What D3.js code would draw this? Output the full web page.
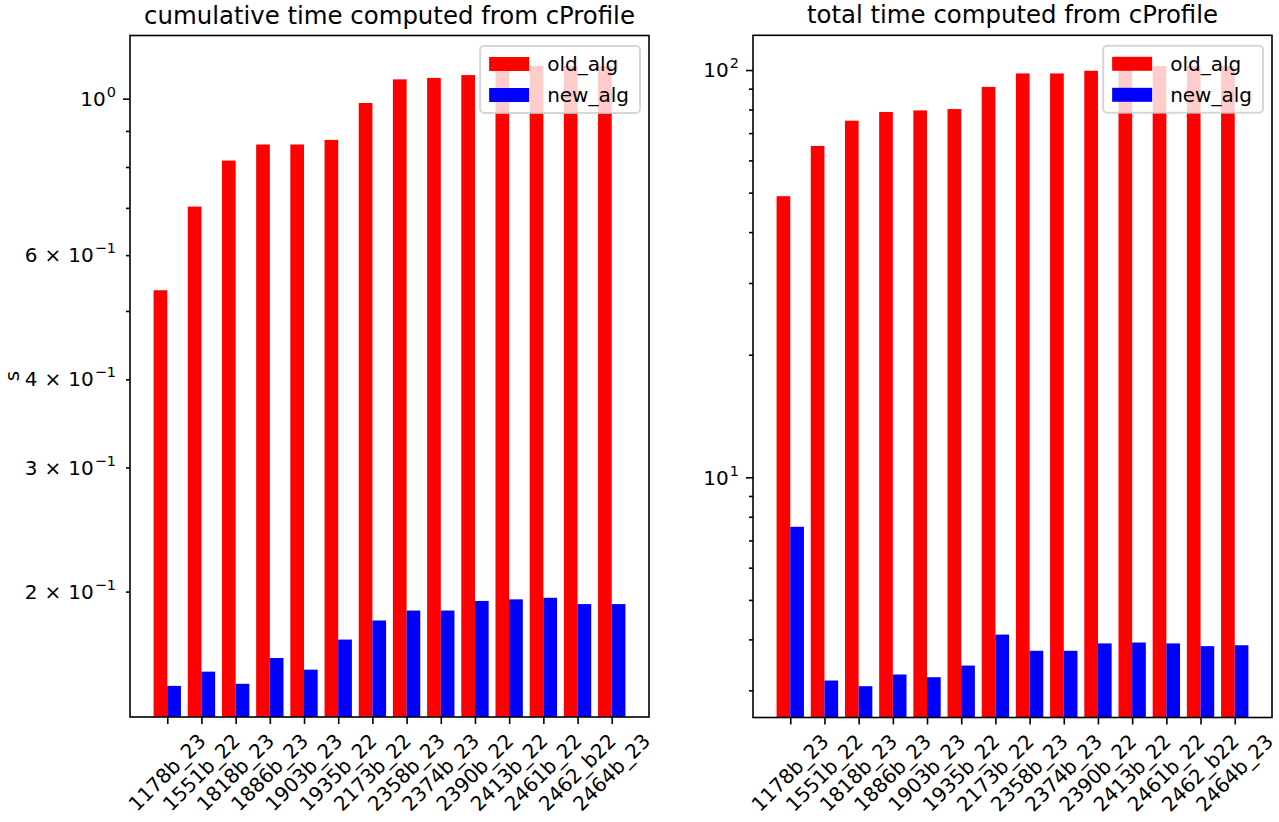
<!DOCTYPE html>
<html>
<head>
<meta charset="utf-8">
<script src="https://cdn.jsdelivr.net/npm/d3@7"></script>
<style>
  body { margin: 0; background: #fff; }
  text { font-family: "DejaVu Sans", sans-serif; fill: #000; }
</style>
</head>
<body>
<script>
// data
const categories = ["1178b_23", "1551b_22", "1818b_23", "1886b_23", "1903b_23", "1935b_22", "2173b_22",
  "2358b_23", "2374b_23", "2390b_22", "2413b_22", "2461b_22", "2462_b22", "2464b_23"];
const cumOld = [0.535, 0.703, 0.817, 0.861, 0.861, 0.874, 0.986, 1.065, 1.070, 1.080, 1.113, 1.113, 1.113, 1.113];
const cumNew = [0.147, 0.154, 0.148, 0.161, 0.155, 0.171, 0.182, 0.188, 0.188, 0.194, 0.195, 0.196, 0.192, 0.192];
const totOld = [49.0, 65.1, 75.1, 78.9, 79.6, 80.2, 90.9, 98.1, 98.1, 99.6, 102.3, 102.3, 102.3, 102.3];
const totNew = [7.56, 3.17, 3.07, 3.28, 3.23, 3.45, 4.11, 3.75, 3.75, 3.91, 3.93, 3.91, 3.85, 3.87];

const seriesNames = ["old_alg", "new_alg"];
const seriesColors = ["#ff0000", "#0000ff"];

// tick labels: [value, mantissa, exponent]; mantissa null means plain 10^e
const cumMajor = [1];
const cumMinor = [0.2, 0.3, 0.4, 0.5, 0.6, 0.7, 0.8, 0.9];
const cumLabels = [[1, null, "0"], [0.6, "6", "\u22121"], [0.4, "4", "\u22121"], [0.3, "3", "\u22121"], [0.2, "2", "\u22121"]];
const totMajor = [10, 100];
const totMinor = [3, 4, 5, 6, 7, 8, 9, 20, 30, 40, 50, 60, 70, 80, 90];
const totLabels = [[10, null, "1"], [100, null, "2"]];

const svgWidth = 1279;
const svgHeight = 822;
const svg = d3.select("body").append("svg")
  .attr("width", svgWidth)
  .attr("height", svgHeight);

const fontSize = 20;

function drawPanel(opts) {
  const w = opts.width, h = opts.height;
  const g = svg.append("g").attr("transform", `translate(${opts.left},${opts.top})`);

  const x = d3.scaleLinear().domain([-1.09, categories.length - 1 + 1.09]).range([0, w]);
  const y = d3.scaleLog().domain(opts.yDomain).range([h, 0]);

  // bars, red left of tick, blue right of tick
  [opts.old, opts.neu].forEach((vals, s) => {
    g.append("g").selectAll("rect")
      .data(vals)
      .enter().append("rect")
      .attr("x", (d, i) => x(i - 0.4 + s * 0.4))
      .attr("width", x(0.4) - x(0))
      .attr("y", d => y(d))
      .attr("height", d => h - y(d))
      .attr("fill", seriesColors[s]);
  });

  // y axis: minor then major ticks
  const yMinor = g.append("g")
    .call(d3.axisLeft(y).tickValues(opts.minor).tickSize(4).tickPadding(10).tickFormat(""));
  const yMajor = g.append("g")
    .call(d3.axisLeft(y).tickValues(opts.major).tickSize(7).tickPadding(7).tickFormat(""));
  [yMinor, yMajor].forEach(a => {
    a.select(".domain").remove();
    a.selectAll(".tick line").attr("stroke", "#000").attr("stroke-width", 1.6);
  });

  // y tick labels with superscripts
  const labs = g.append("g").selectAll("text")
    .data(opts.labels)
    .enter().append("text")
    .attr("x", -14)
    .attr("y", d => y(d[0]))
    .attr("dy", "0.36em")
    .attr("text-anchor", "end")
    .style("font-size", fontSize + "px");
  labs.each(function(d) {
    const t = d3.select(this);
    if (d[1] !== null) {
      t.append("tspan").text(d[1]);
      t.append("tspan").attr("dx", 7).text("\u00d7");
      t.append("tspan").attr("dx", 7).text("10");
    } else {
      t.append("tspan").text("10");
    }
    t.append("tspan").attr("dy", -9).attr("dx", 1).style("font-size", "14.5px").text(d[2]);
  });

  // x axis
  const xAxis = g.append("g")
    .attr("transform", `translate(0,${h})`)
    .call(d3.axisBottom(x).tickValues(d3.range(categories.length)).tickSize(7).tickFormat(i => categories[i]));
  xAxis.select(".domain").remove();
  xAxis.selectAll(".tick line").attr("stroke", "#000").attr("stroke-width", 1.6);
  xAxis.selectAll(".tick text")
    .style("font-size", fontSize + "px")
    .attr("fill", "#000")
    .each(function() {
      const t = d3.select(this);
      const tw = this.getComputedTextLength();
      const cy = 14 + (tw + fontSize) * Math.SQRT1_2 / 2;
      t.attr("text-anchor", "middle")
        .attr("x", 0)
        .attr("y", cy)
        .attr("dy", "0.3em")
        .attr("transform", `rotate(-45,0,${cy})`);
    });

  // frame
  g.append("rect")
    .attr("width", w).attr("height", h)
    .attr("fill", "none").attr("stroke", "#000").attr("stroke-width", 1.6);

  // title
  g.append("text")
    .attr("x", w / 2).attr("y", -12)
    .attr("text-anchor", "middle")
    .style("font-size", "24.4px")
    .text(opts.title);

  // legend, upper right
  const leg = g.append("g");
  const box = leg.append("rect")
    .attr("fill", "#fff").attr("fill-opacity", 0.8)
    .attr("stroke", "#cccccc").attr("stroke-opacity", 0.8).attr("stroke-width", 2)
    .attr("rx", 4);
  const rowH = 22, padL = 9, padR = 11, padV = 7, handleW = 40, gap = 18, rowGap = 9;
  let maxW = 0;
  seriesNames.forEach((name, i) => {
    const cy = padV + rowH / 2 + i * (rowH + rowGap);
    leg.append("rect")
      .attr("x", padL).attr("y", cy - 7)
      .attr("width", handleW).attr("height", 14)
      .attr("fill", seriesColors[i]);
    const t = leg.append("text")
      .attr("x", padL + handleW + gap).attr("y", cy)
      .attr("dy", "0.36em")
      .style("font-size", fontSize + "px")
      .text(name);
    maxW = Math.max(maxW, t.node().getComputedTextLength());
  });
  const legW = padL + handleW + gap + maxW + padR;
  const legH = padV * 2 + rowH * 2 + rowGap;
  box.attr("width", legW).attr("height", legH);
  leg.attr("transform", `translate(${w - 9 - legW},${10.5})`);

  return g;
}

drawPanel({
  left: 130, top: 35.5, width: 519, height: 681.5,
  yDomain: [0.1328, 1.229],
  old: cumOld, neu: cumNew,
  major: cumMajor, minor: cumMinor, labels: cumLabels,
  title: "cumulative time computed from cProfile"
});

drawPanel({
  left: 753, top: 35.3, width: 519, height: 682.2,
  yDomain: [2.572, 121.7],
  old: totOld, neu: totNew,
  major: totMajor, minor: totMinor, labels: totLabels,
  title: "total time computed from cProfile"
});

// y label of the left panel
svg.append("text")
  .attr("transform", "translate(19,376) rotate(-90)")
  .attr("text-anchor", "middle")
  .style("font-size", fontSize + "px")
  .text("s");
</script>
</body>
</html>
